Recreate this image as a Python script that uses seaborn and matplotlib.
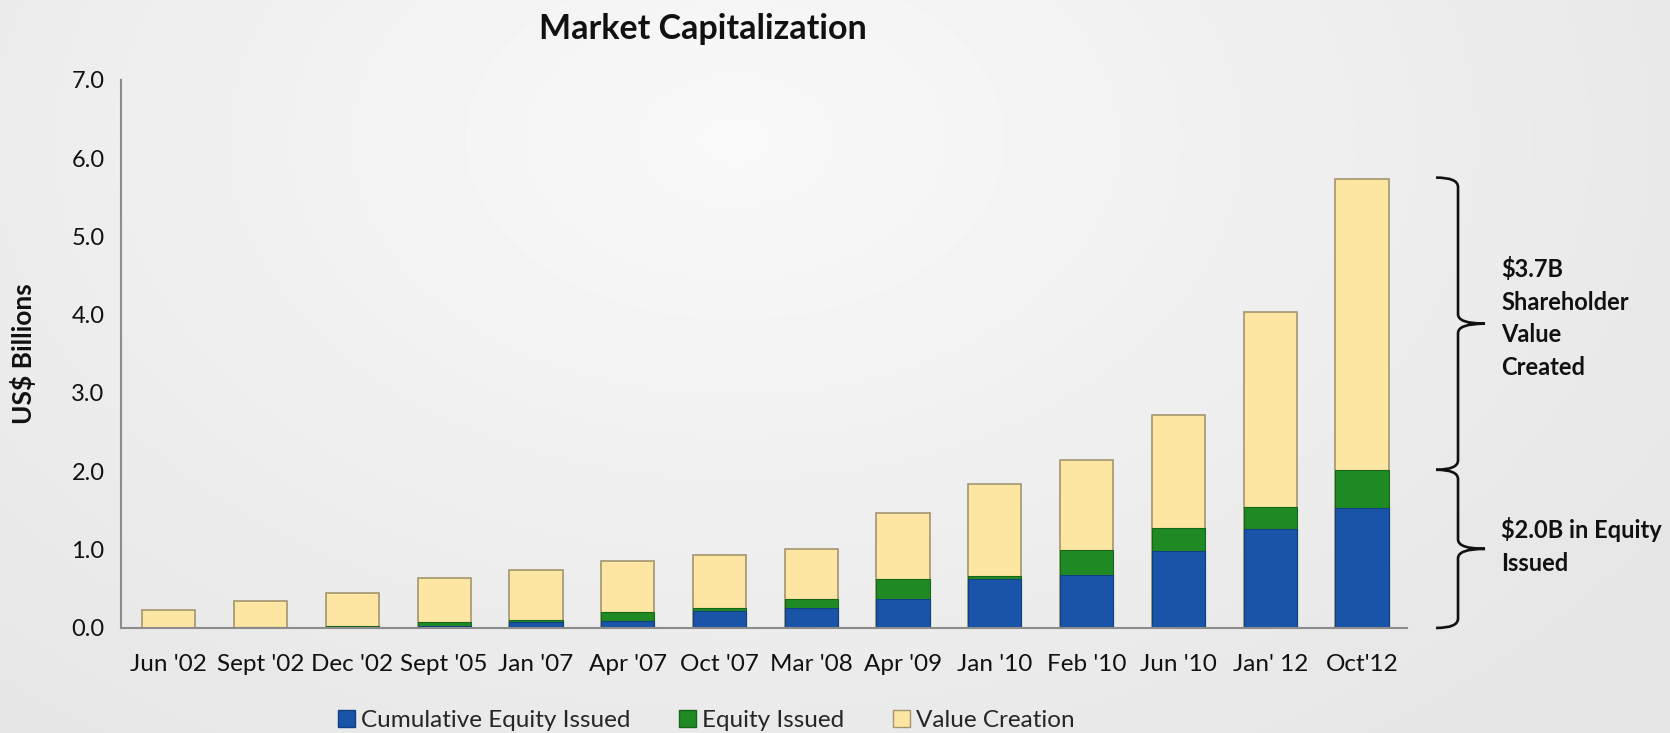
import numpy as np
import pandas as pd
import matplotlib
matplotlib.use("Agg")
import matplotlib.pyplot as plt
import matplotlib.transforms as mtransforms
from matplotlib.path import Path
from matplotlib.patches import PathPatch, Patch
import seaborn as sns

# ── Data (US$ billions) ─────────────────────────────────────────────────────
periods = ["Jun '02", "Sept '02", "Dec '02", "Sept '05", "Jan '07", "Apr '07", "Oct '07",
           "Mar '08", "Apr '09", "Jan '10", "Feb '10", "Jun '10", "Jan' 12", "Oct'12"]
cumulative_equity = [0.00, 0.00, 0.01, 0.02, 0.08, 0.09, 0.22, 0.26, 0.37, 0.62, 0.67, 0.98, 1.26, 1.53]
equity_issued = [0.00, 0.01, 0.01, 0.05, 0.02, 0.12, 0.04, 0.11, 0.26, 0.04, 0.32, 0.30, 0.28, 0.49]
value_creation = [0.23, 0.34, 0.43, 0.57, 0.64, 0.64, 0.67, 0.64, 0.84, 1.18, 1.16, 1.44, 2.50, 3.71]
y_ticks = [0, 1, 2, 3, 4, 5, 6, 7]

BLUE = "#1a54a8"
GREEN = "#1f8a24"
YELLOW = "#fde6a2"

df = pd.DataFrame({"period": periods, "cum": cumulative_equity,
                   "eq": equity_issued, "vc": value_creation})
df["lvl2"] = df["cum"] + df["eq"]
df["total"] = df["lvl2"] + df["vc"]

# ── Style ───────────────────────────────────────────────────────────────────
sns.set_theme(style="white")
plt.rcParams["font.family"] = ["Lato", "DejaVu Sans"]

fig = plt.figure(figsize=(16.7, 7.33), dpi=100)
fig.patch.set_facecolor("#ececec")

# soft background with a light spot near the top
bg = fig.add_axes([0, 0, 1, 1], zorder=-5)
yy, xx = np.mgrid[0:733, 0:1670]
dist = np.sqrt(((xx - 735) / 900.0) ** 2 + ((yy - 140) / 600.0) ** 2)
bg.imshow(np.clip(0.975 - 0.06 * dist, 0.90, 1.0), cmap="gray", vmin=0, vmax=1,
          aspect="auto", extent=[0, 1, 0, 1])
bg.axis("off")

ax = fig.add_axes([0.0725, 0.1433, 0.77, 0.748])
ax.set_facecolor("none")

sns.barplot(data=df, x="period", y="total", color=YELLOW, saturation=1, width=0.58,
            edgecolor="#a39570", linewidth=1.2, ax=ax)
sns.barplot(data=df, x="period", y="lvl2", color=GREEN, saturation=1, width=0.58,
            edgecolor="#16661a", linewidth=0.8, ax=ax)
sns.barplot(data=df, x="period", y="cum", color=BLUE, saturation=1, width=0.58,
            edgecolor="#12407f", linewidth=0.8, ax=ax)

ax.set_ylim(0, 7)
ax.set_xlim(-0.52, len(periods) - 0.51)
ax.set_yticks(y_ticks)
ax.set_yticklabels([f"{v:.1f}" for v in y_ticks], fontsize=17, color="#111111")
ax.tick_params(axis="y", length=0, pad=12)
ax.tick_params(axis="x", length=0, pad=19, labelsize=17.5, labelcolor="#111111")
ax.set_xlabel("")
ax.set_ylabel("US$ Billions", fontsize=19, fontweight="bold", color="#111111")
ax.yaxis.set_label_coords(-0.066, 0.5)
for side in ["top", "right"]:
    ax.spines[side].set_visible(False)
for side in ["left", "bottom"]:
    ax.spines[side].set_color("#8c8c8c")
    ax.spines[side].set_linewidth(1.5)

fig.text(0.421, 0.961, "Market Capitalization", ha="center", va="center",
         fontsize=24.5, fontweight="bold", color="#111111")


# ── Curly braces on the right ───────────────────────────────────────────────
def draw_brace(y0, y1):
    trans = mtransforms.blended_transform_factory(ax.transAxes, ax.transData)
    x0, xs, xt = 1.0226, 1.0397, 1.0607
    d = 0.12
    ym = (y0 + y1) / 2
    verts = [(x0, y1), (xs, y1), (xs, y1 - d),
             (xs, ym + d),
             (xs, ym), (xt, ym),
             (xs, ym), (xs, ym - d),
             (xs, y0 + d),
             (xs, y0), (x0, y0)]
    codes = [Path.MOVETO, Path.CURVE3, Path.CURVE3,
             Path.LINETO,
             Path.CURVE3, Path.CURVE3,
             Path.CURVE3, Path.CURVE3,
             Path.LINETO,
             Path.CURVE3, Path.CURVE3]
    patch = PathPatch(Path(verts, codes), transform=trans, fill=False,
                      edgecolor="#111111", linewidth=1.9, clip_on=False)
    ax.add_patch(patch)


draw_brace(2.02, 5.75)
draw_brace(0.0, 2.02)

fig.text(0.899, 0.566, "$3.7B\nShareholder\nValue\nCreated", ha="left", va="center",
         fontsize=17, fontweight="bold", color="#111111", linespacing=1.5)
fig.text(0.899, 0.255, "$2.0B in Equity\nIssued", ha="left", va="center",
         fontsize=17, fontweight="bold", color="#111111", linespacing=1.5)

# ── Legend ──────────────────────────────────────────────────────────────────
handles = [Patch(facecolor=BLUE, edgecolor="#12407f", label="Cumulative Equity Issued"),
           Patch(facecolor=GREEN, edgecolor="#16661a", label="Equity Issued"),
           Patch(facecolor=YELLOW, edgecolor="#a39570", label="Value Creation")]
fig.legend(handles=handles, loc="center", bbox_to_anchor=(0.423, 0.017), ncol=3,
           frameon=False, fontsize=17.5, handlelength=0.7, handleheight=0.7,
           handletextpad=0.25, columnspacing=2.0)

fig.savefig("out.png", dpi=100, facecolor=fig.get_facecolor())
